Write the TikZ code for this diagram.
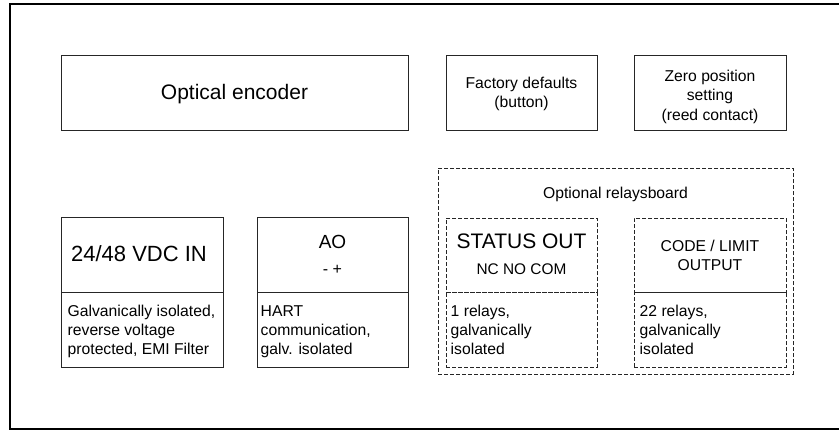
\documentclass[tikz,border=0pt]{standalone}
\usepackage{fontspec}
\setmainfont{Liberation Sans}
\begin{document}
\begin{tikzpicture}[x=1pt,y=-1pt,
  box/.style={draw=black!85, line width=0.9pt, inner sep=0pt, outer sep=0pt, anchor=north west},
  dbox/.style={box, dash pattern=on 4pt off 2pt},
  big/.style={font=\fontsize{21}{25}\selectfont, inner sep=0pt, anchor=base},
  med/.style={font=\fontsize{15.7}{19}\selectfont, inner sep=0pt, anchor=base},
  sml/.style={font=\fontsize{16}{19}\selectfont, inner sep=0pt, anchor=base},
  low/.style={font=\fontsize{15.7}{19}\selectfont, inner sep=0pt, anchor=base west}]
\useasboundingbox (0,0) rectangle (839,429);
\clip (0,0) rectangle (839,429);
\fill[white] (0,0) rectangle (839,429);
% outer frame (open to the right)
\node[draw, line width=2pt, inner sep=0pt, anchor=north west, minimum width=860pt, minimum height=425pt] (frame) at (9,3) {};
% top row
\node[box, minimum width=347pt, minimum height=75pt] (enc) at (61,55) {};
\node[box, minimum width=151pt, minimum height=75pt] (fac) at (446,55) {};
\node[box, minimum width=152pt, minimum height=75pt] (zero) at (634,55) {};
\node[big] (tenc) at (234.5,99) {Optical encoder};
\node[med] (tfac1) at (521.5,88.6) {Factory defaults};
\node[med] (tfac2) at (521.5,107.6) {(button)};
\node[med] (tz1) at (710,81.5) {Zero position};
\node[med] (tz2) at (710,100.7) {setting};
\node[med] (tz3) at (710,120) {(reed contact)};
% relay board
\node[dbox, minimum width=355pt, minimum height=206pt] (relay) at (438,168) {};
\node[med] (trel) at (615.5,198) {Optional relaysboard};
% power
\node[box, minimum width=162pt, minimum height=75pt] (pwrt) at (61,217) {};
\node[box, minimum width=162pt, minimum height=75pt] (pwrb) at (61,292) {};
\node[big, font=\fontsize{22}{26}\selectfont] (tpwr) at (139,261) {24/48 VDC IN};
\node[low] (pw1) at (67.5,316.7) {Galvanically isolated,};
\node[low] (pw2) at (67.5,335.4) {reverse voltage};
\node[low] (pw3) at (67.5,354.1) {protected, EMI Filter};
% AO
\node[box, minimum width=151pt, minimum height=75pt] (aot) at (257,217) {};
\node[box, minimum width=151pt, minimum height=75pt] (aob) at (257,292) {};
\node[big, font=\fontsize{19}{22}\selectfont] (tao) at (332.5,248.3) {AO};
\node[sml] (taopm) at (332.5,274.5) {- +};
\node[low] (ao1) at (260.5,316.7) {HART};
\node[low] (ao2) at (260.5,335.4) {communication,};
\node[low] (ao3) at (260.5,354.1) {galv. isolated};
% status out
\node[dbox, minimum width=151pt, minimum height=74pt] (stt) at (446,218) {};
\node[dbox, minimum width=151pt, minimum height=75pt] (stb) at (446,292) {};
\node[big] (tst) at (521.5,248.3) {STATUS OUT};
\node[med, font=\fontsize{15.4}{19}\selectfont] (tst2) at (521.5,274.3) {NC NO COM};
\node[low] (st1) at (450.5,316.7) {1 relays,};
\node[low] (st2) at (450.5,335.4) {galvanically};
\node[low] (st3) at (450.5,354.1) {isolated};
% code / limit
\node[dbox, minimum width=152pt, minimum height=74pt] (cdt) at (634,218) {};
\node[dbox, minimum width=152pt, minimum height=75pt] (cdb) at (634,292) {};
\node[med] (tc1) at (710,251) {CODE / LIMIT};
\node[med] (tc2) at (710,270) {OUTPUT};
\node[low] (cd1) at (639.5,316.7) {22 relays,};
\node[low] (cd2) at (639.5,335.4) {galvanically};
\node[low] (cd3) at (639.5,354.1) {isolated};
\end{tikzpicture}
\end{document}
